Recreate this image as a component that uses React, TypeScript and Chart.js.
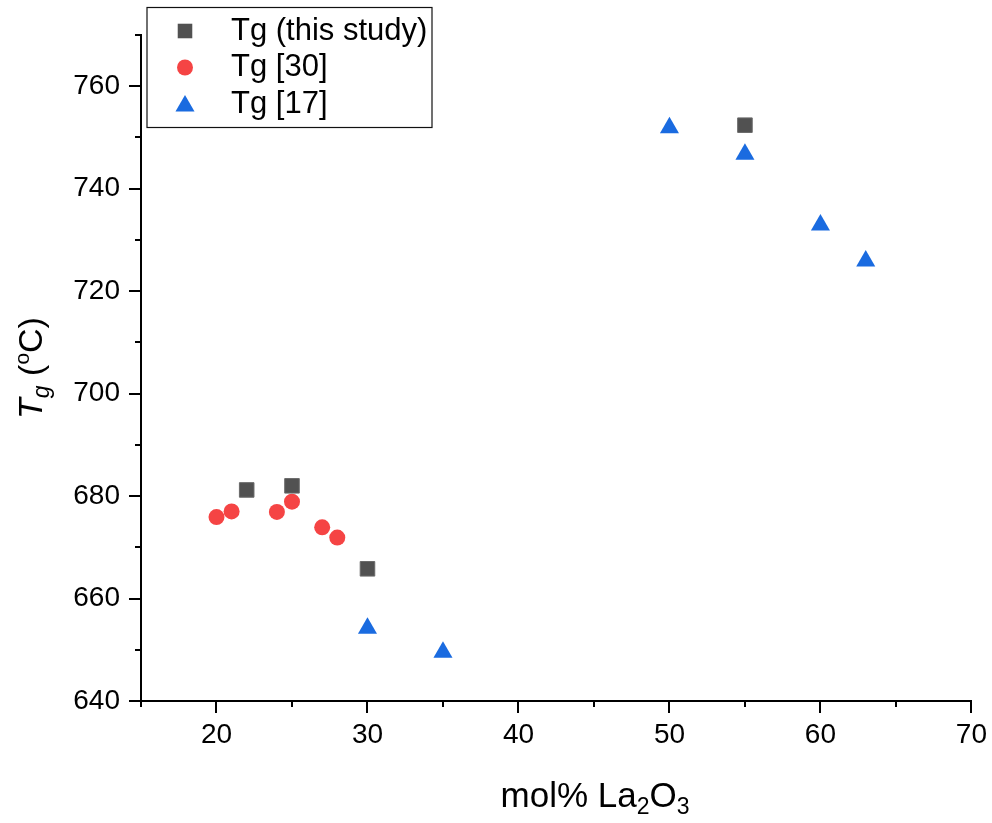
import { useEffect, useRef } from 'react';
import { Chart, registerables } from 'chart.js';

Chart.register(...registerables);

// ---- data ----
const seriesLabels = ['Tg (this study)', 'Tg [30]', 'Tg [17]'];
const studyX = [22, 25, 30, 55];
const studyY = [681.2, 682.0, 665.8, 752.4];
const ref30X = [20, 21, 24, 25, 27, 28];
const ref30Y = [675.9, 677.0, 676.9, 678.9, 673.9, 671.9];
const ref17X = [30, 35, 50, 55, 60, 63];
const ref17Y = [654.2, 649.5, 751.9, 746.7, 732.9, 725.9];
const xMajorTicks = [20, 30, 40, 50, 60, 70];
const yMajorTicks = [640, 660, 680, 700, 720, 740, 760];
const xTitleParts = ['mol% La', '2', 'O', '3'];
const yTitleParts = ['T', 'g', ' (', 'o', 'C)'];

const FONT = '"Liberation Sans", Arial, sans-serif';
const COLORS = ['#515151', '#F54444', '#1A6BE0'];

function toPts(xs: number[], ys: number[]) {
  return xs.map((x, i) => ({ x, y: ys[i] }));
}

function drawMarker(ctx: CanvasRenderingContext2D, style: string, x: number, y: number, r: number, color: string) {
  ctx.save();
  ctx.fillStyle = color;
  ctx.beginPath();
  if (style === 'rect') {
    const s = Math.SQRT1_2 * r;
    ctx.rect(x - s, y - s, 2 * s, 2 * s);
  } else if (style === 'circle') {
    ctx.arc(x, y, r, 0, Math.PI * 2);
  } else {
    ctx.moveTo(x, y - r);
    ctx.lineTo(x + r * Math.cos(Math.PI / 6), y + r / 2);
    ctx.lineTo(x - r * Math.cos(Math.PI / 6), y + r / 2);
    ctx.closePath();
  }
  ctx.fill();
  ctx.restore();
}

const decorPlugin = {
  id: 'decor',
  afterDraw(chart: any) {
    const ctx: CanvasRenderingContext2D = chart.ctx;
    const xs = chart.scales.x;
    const ys = chart.scales.y;
    const area = chart.chartArea;
    ctx.save();
    ctx.strokeStyle = '#000';
    ctx.lineWidth = 2;
    xs.ticks.forEach((t: any) => {
      const px = Math.round(xs.getPixelForValue(t.value));
      const len = xMajorTicks.includes(t.value) ? 12 : 6;
      ctx.beginPath();
      ctx.moveTo(px, area.bottom);
      ctx.lineTo(px, area.bottom + len);
      ctx.stroke();
    });
    ys.ticks.forEach((t: any) => {
      const py = Math.round(ys.getPixelForValue(t.value));
      const len = yMajorTicks.includes(t.value) ? 12 : 6;
      ctx.beginPath();
      ctx.moveTo(area.left, py);
      ctx.lineTo(area.left - len, py);
      ctx.stroke();
    });

    // x title
    ctx.fillStyle = '#000';
    ctx.textBaseline = 'alphabetic';
    const big = `35px ${FONT}`;
    const small = `23px ${FONT}`;
    const xParts = [
      { t: xTitleParts[0], f: big, dy: 0 },
      { t: xTitleParts[1], f: small, dy: 7 },
      { t: xTitleParts[2], f: big, dy: 0 },
      { t: xTitleParts[3], f: small, dy: 7 },
    ];
    let tw = 0;
    xParts.forEach((p) => { ctx.font = p.f; tw += ctx.measureText(p.t).width; });
    let cx = 595 - tw / 2;
    xParts.forEach((p) => {
      ctx.font = p.f;
      ctx.fillText(p.t, cx, 807 + p.dy);
      cx += ctx.measureText(p.t).width;
    });

    // y title
    const yBig = `34px ${FONT}`;
    const yParts = [
      { t: yTitleParts[0], f: `italic 34px ${FONT}`, dy: 0 },
      { t: yTitleParts[1], f: `italic 23px ${FONT}`, dy: 7 },
      { t: yTitleParts[2], f: yBig, dy: 0 },
      { t: yTitleParts[3], f: `21px ${FONT}`, dy: -13 },
      { t: yTitleParts[4], f: yBig, dy: 0 },
    ];
    tw = 0;
    yParts.forEach((p) => { ctx.font = p.f; tw += ctx.measureText(p.t).width; });
    ctx.save();
    ctx.translate(42, 368);
    ctx.rotate(-Math.PI / 2);
    let lx = -tw / 2;
    yParts.forEach((p) => {
      ctx.font = p.f;
      ctx.fillText(p.t, lx, p.dy);
      lx += ctx.measureText(p.t).width;
    });
    ctx.restore();

    // legend
    ctx.lineWidth = 1.2;
    ctx.strokeStyle = '#111';
    ctx.strokeRect(147, 7.5, 285, 120);
    const rowY = [31, 67.5, 104];
    chart.data.datasets.forEach((ds: any, i: number) => {
      const r = ds.pointStyle === 'rect' ? 10.3 : ds.pointStyle === 'circle' ? 8 : 11;
      drawMarker(ctx, ds.pointStyle, 185, rowY[i] + (ds.pointStyle === 'triangle' ? 2 : 0), r, ds.backgroundColor);
      ctx.font = `31px ${FONT}`;
      ctx.fillStyle = '#000';
      ctx.textBaseline = 'middle';
      ctx.fillText(ds.label, 231, rowY[i]);
    });
    ctx.restore();
  },
};

export default function App() {
  const ref = useRef<HTMLCanvasElement | null>(null);
  useEffect(() => {
    if (!ref.current) return;
    const chart = new Chart(ref.current, {
      type: 'scatter',
      data: {
        datasets: [
          {
            label: seriesLabels[0],
            data: toPts(studyX, studyY),
            pointStyle: 'rect',
            pointRadius: 10.3,
            backgroundColor: COLORS[0],
            borderColor: '#6a6a6a',
            borderWidth: 1,
          },
          {
            label: seriesLabels[1],
            data: toPts(ref30X, ref30Y),
            pointStyle: 'circle',
            pointRadius: 8,
            backgroundColor: COLORS[1],
            borderColor: COLORS[1],
            borderWidth: 0,
          },
          {
            label: seriesLabels[2],
            data: toPts(ref17X, ref17Y),
            pointStyle: 'triangle',
            pointRadius: 11,
            backgroundColor: COLORS[2],
            borderColor: COLORS[2],
            borderWidth: 0,
          },
        ],
      },
      options: {
        animation: false,
        responsive: false,
        devicePixelRatio: 1,
        layout: { padding: { left: 0, right: 16, top: 35, bottom: 0 } },
        plugins: { legend: { display: false }, tooltip: { enabled: false } },
        scales: {
          x: {
            type: 'linear',
            min: 15,
            max: 70,
            afterFit: (s: any) => { s.height = 122; },
            border: { display: true, color: '#000', width: 2 },
            grid: { display: true, drawOnChartArea: false, drawTicks: true, tickLength: 12, color: 'rgba(0,0,0,0)', tickColor: 'rgba(0,0,0,0)' },
            ticks: {
              stepSize: 5,
              autoSkip: false,
              maxRotation: 0,
              padding: 5,
              color: '#000',
              font: { family: FONT, size: 28 },
              callback: (v: any) => (xMajorTicks.includes(Number(v)) ? String(v) : ''),
            },
          },
          y: {
            type: 'linear',
            min: 640,
            max: 770,
            afterFit: (s: any) => { s.width = 141; },
            border: { display: true, color: '#000', width: 2 },
            grid: { display: true, drawOnChartArea: false, drawTicks: true, tickLength: 12, color: 'rgba(0,0,0,0)', tickColor: 'rgba(0,0,0,0)' },
            ticks: {
              stepSize: 10,
              autoSkip: false,
              padding: 9,
              color: '#000',
              font: { family: FONT, size: 28 },
              callback: (v: any) => (yMajorTicks.includes(Number(v)) ? String(v) : ''),
            },
          },
        },
      },
      plugins: [decorPlugin],
    });
    return () => chart.destroy();
  }, []);
  return (
    <canvas
      ref={ref}
      width={992}
      height={823}
      style={{ position: 'absolute', left: 0, top: 0, width: 992, height: 823, display: 'block' }}
    />
  );
}
